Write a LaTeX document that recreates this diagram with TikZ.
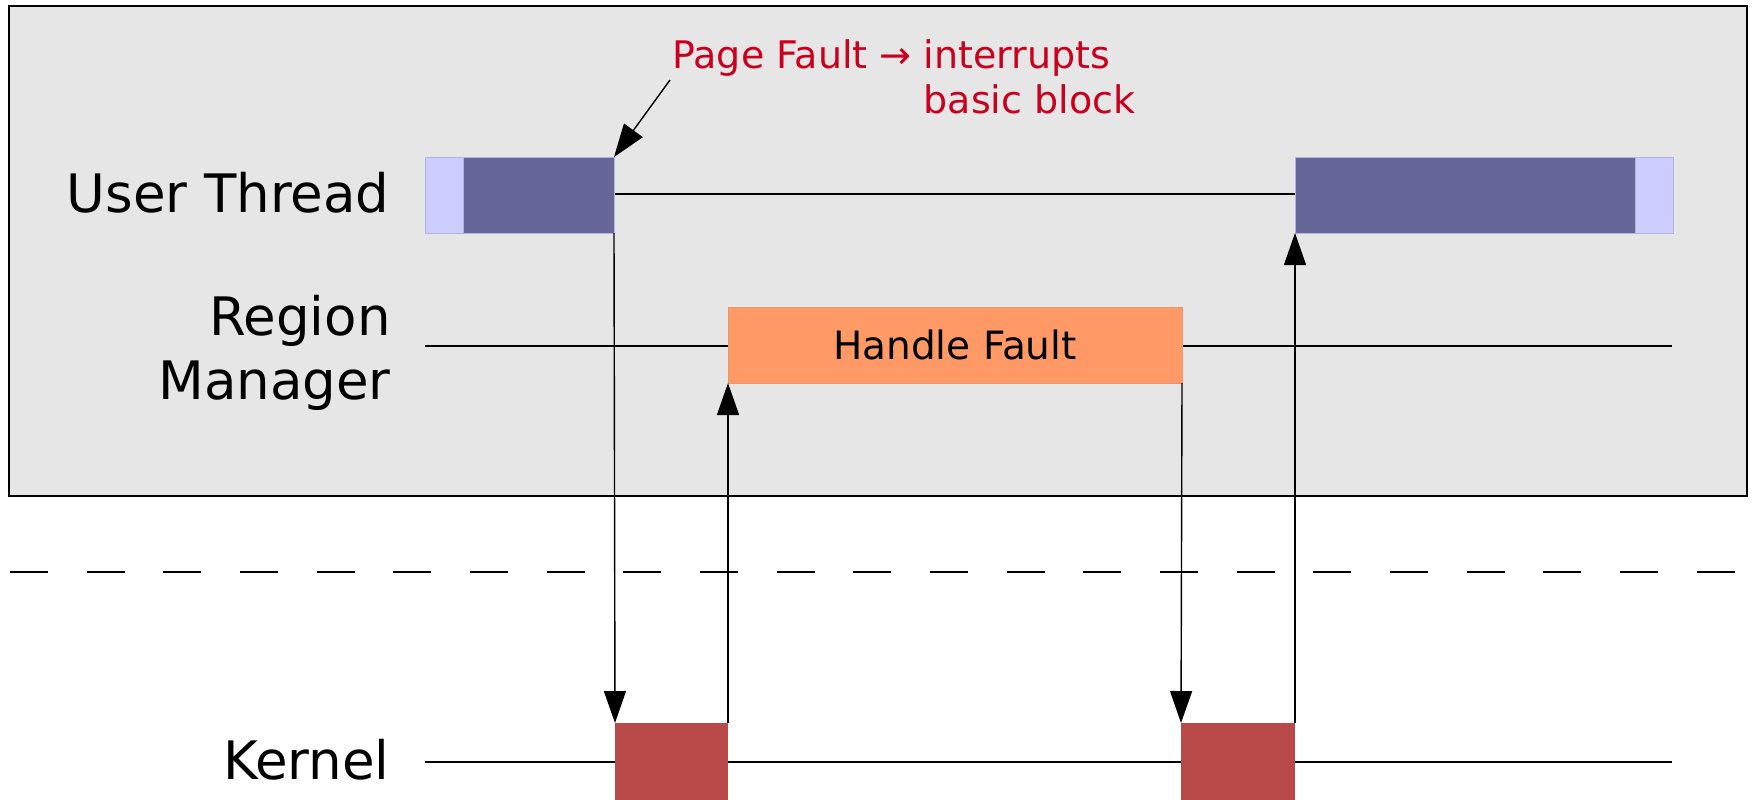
\documentclass[tikz,border=0pt]{standalone}
\usepackage{fontspec}
\setmainfont{DejaVu Sans}
\usetikzlibrary{arrows.meta}

\definecolor{panel}{HTML}{E6E6E6}
\definecolor{userdark}{HTML}{666699}
\definecolor{userlight}{HTML}{CCCCFF}
\definecolor{userline}{HTML}{B3B3E0}
\definecolor{handler}{HTML}{FF9966}
\definecolor{kernelred}{HTML}{B84A4A}
\definecolor{note}{HTML}{C9001E}

\tikzset{
  lane/.style={font=\fontsize{26.5}{32}\selectfont, inner sep=0pt, align=right},
  bar/.style={inner sep=0pt, outer sep=0pt, minimum height=38pt},
  track/.style={line width=0.75pt, black},
  flow/.style={line width=0.7pt, black, -{Triangle[length=16pt, width=11pt]}},
  callout/.style={line width=0.7pt, black, -{Triangle[length=16.5pt, width=11.5pt]}},
}

\begin{document}
\begin{tikzpicture}[x=0.5pt, y=-0.5pt]
\useasboundingbox (0,0) rectangle (1756,799);
\fill[white] (0,0) rectangle (1756,799);

% user-space panel
\draw[fill=panel, line width=0.8pt] (9,6) rectangle (1747,496);

% user / kernel boundary
\draw[line width=0.75pt, dash pattern=on 19pt off 19.33pt] (10,572) -- (1736,572);

% lane labels (base anchor sits on the last line)
\node[lane, anchor=base east] (lblUser) at (390,212) {User Thread};
\node[lane, anchor=base east] (lblRegion) at (391,399) {Region\\Manager};
\node[lane, anchor=base east] (lblKernel) at (390,779) {Kernel};

% timeline tracks
\draw[track] (425,762) -- (1672,762);
\draw[track] (425,346) -- (728,346);
\draw[track] (1181,346) -- (1672,346);
\draw[track] (614,194) -- (1295,194);

% user thread activity
\node[bar, fill=userlight, draw=userline, line width=0.4pt, minimum width=19pt, anchor=north west] (u1a) at (425,157) {};
\node[bar, fill=userdark, draw=userline, line width=0.4pt, minimum width=75.5pt, anchor=north west] (u1) at (463,157) {};
\node[bar, fill=userdark, draw=userline, line width=0.4pt, minimum width=170pt, anchor=north west] (u2) at (1295,157) {};
\node[bar, fill=userlight, draw=userline, line width=0.4pt, minimum width=19pt, anchor=north west] (u2a) at (1635,157) {};

% region manager activity
\node[bar, fill=handler, draw=handler!85!gray, line width=0.3pt, minimum width=227pt, anchor=north west,
      font=\fontsize{19.5}{24}\selectfont] (hf) at (728,307) {Handle Fault};

% kernel activity
\node[bar, fill=kernelred, minimum width=56.5pt, minimum height=40pt, anchor=north west] (k1) at (615,723) {};
\node[bar, fill=kernelred, minimum width=57pt, minimum height=40pt, anchor=north west] (k2) at (1181,723) {};

% control transfers
\draw[flow] (u1.south east) -- (k1.north west);
\draw[flow] (k1.north east) -- (hf.south west);
\draw[flow] (hf.south east) -- (k2.north west);
\draw[flow] (k2.north east) -- (u2.south west);

% annotation
\node[font=\fontsize{19}{22.5}\selectfont, text=note, inner sep=0pt, align=left, anchor=base west] (pf) at (672,113)
  {Page Fault → interrupts\\\phantom{Page Fault → }basic block};
\coordinate (pfstart) at (670,80);
\draw[callout] (pfstart) -- (u1.north east);
\end{tikzpicture}
\end{document}
